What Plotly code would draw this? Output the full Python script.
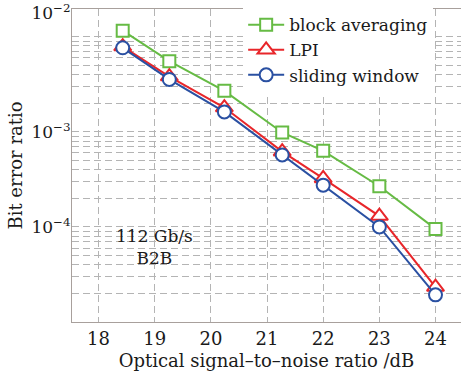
import numpy as np
import plotly.graph_objects as go

# ---- data ----
osnr_db = [18.43, 19.26, 20.24, 21.27, 22.0, 23.0, 24.0]
ber_block_avg = [1.16e-2, 5.54e-3, 2.70e-3, 9.85e-4, 6.31e-4, 2.68e-4, 9.53e-5]
ber_lpi = [7.89e-3, 3.81e-3, 1.80e-3, 6.19e-4, 3.24e-4, 1.30e-4, 2.33e-5]
ber_sliding = [7.65e-3, 3.56e-3, 1.62e-3, 5.71e-4, 2.75e-4, 1.00e-4, 1.93e-5]

series_names = ["block averaging", "LPI", "sliding window"]
x_tick_vals = [18, 19, 20, 21, 22, 23, 24]
x_range = [17.527, 24.454]
y_log_range = [-5.0, -1.708]
y_tick_vals = [10 ** -1.75, 1e-3, 1e-4]
y_tick_text = ["10<sup>−2</sup>", "10<sup>−3</sup>", "10<sup>−4</sup>"]
y_minor_vals = [m * 10.0 ** e for e in range(-5, -1) for m in range(1, 10)]

FONT = "DejaVu Serif"
TXT = "#1a1a1a"
GRID = "#b4b4b4"
AXIS = "#a8a09c"

styles = [
    dict(color="#66bb44", symbol="square", size=12),
    dict(color="#e8262a", symbol="triangle-up", size=15),
    dict(color="#2a50a2", symbol="circle", size=13),
]

fig = go.Figure()
for name, ys, st in zip(series_names, [ber_block_avg, ber_lpi, ber_sliding], styles):
    fig.add_trace(go.Scatter(
        x=osnr_db, y=ys, name=name, mode="lines+markers",
        line=dict(color=st["color"], width=2),
        marker=dict(symbol=st["symbol"], size=st["size"], color="white",
                    line=dict(color=st["color"], width=2)),
    ))

fig.update_layout(
    width=461, height=373,
    margin=dict(l=72, r=0, t=9, b=51),
    paper_bgcolor="white", plot_bgcolor="white",
    font=dict(family=FONT, size=17, color=TXT),
    showlegend=True,
    legend=dict(x=0.44, y=1.006, xanchor="left", yanchor="top",
                bgcolor="white", borderwidth=0,
                font=dict(family=FONT, size=17, color=TXT),
                tracegroupgap=0, itemwidth=36,
                entrywidth=224, entrywidthmode="pixels"),
    xaxis=dict(
        range=x_range, tickmode="array", tickvals=x_tick_vals,
        showgrid=True, gridcolor=GRID, griddash="7px,4px", gridwidth=1,
        showline=True, linecolor=AXIS, linewidth=1, mirror=True,
        ticks="", zeroline=False,
        tickfont=dict(family=FONT, size=18, color=TXT),
        title=dict(text="Optical signal–to–noise ratio /dB", standoff=6,
                   font=dict(family=FONT, size=18, color=TXT)),
    ),
    yaxis=dict(
        type="log", range=y_log_range, tickmode="array",
        tickvals=y_tick_vals, ticktext=y_tick_text,
        showgrid=False, ticklabeloverflow="allow",
        minor=dict(tickmode="array", tickvals=y_minor_vals, showgrid=True,
                   gridcolor=GRID, griddash="7px,4px", gridwidth=1, ticks=""),
        showline=True, linecolor=AXIS, linewidth=1, mirror=False,
        ticks="", zeroline=False, ticklabelstandoff=-3,
        tickfont=dict(family=FONT, size=17, color=TXT),
        title=dict(text="Bit error ratio", standoff=4,
                   font=dict(family=FONT, size=18, color=TXT)),
    ),
)

fig.add_annotation(x=19.0, y=np.log10(1e-4), xref="x", yref="y",
                   text="112 Gb/s<br>B2B", showarrow=False,
                   yshift=-20, font=dict(family=FONT, size=17, color=TXT))

fig.write_html("out.html")
